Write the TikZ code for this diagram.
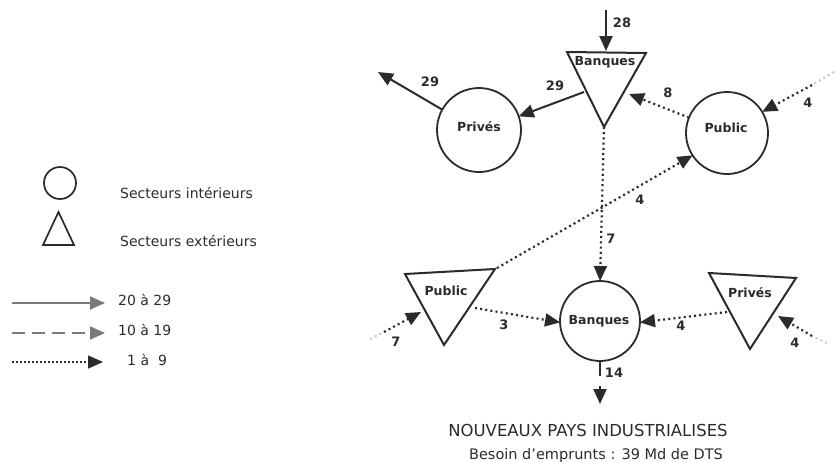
\documentclass[tikz,border=0pt]{standalone}
\usepackage{fontspec}
\setmainfont{DejaVu Sans}
\newfontfamily\lblfont{DejaVu Sans Bold}
\usetikzlibrary{arrows.meta}
\definecolor{ink}{HTML}{2B2B2B}
\definecolor{legendgray}{HTML}{7A7A7A}
\tikzset{
  sector/.style={circle, draw=ink, line width=1.8pt, inner sep=0pt, outer sep=0pt},
  extshape/.style={draw=ink, line width=2pt, line join=miter},
  lbl/.style={text=ink, font=\lblfont\fontsize{12.5}{14}\selectfont, inner sep=0pt},
  num/.style={text=ink, font=\lblfont\fontsize{13}{14}\selectfont, inner sep=0pt},
  legtext/.style={text=ink, font=\fontsize{14}{15}\selectfont, inner sep=0pt, anchor=west},
  tip/.style={-{Triangle[length=15pt,width=13pt]}},
  bigflow/.style={draw=ink, line width=2pt, tip},
  midflow/.style={draw=ink, line width=2pt, dash pattern=on 15pt off 10pt, tip},
  smallflow/.style={draw=ink, line width=2.2pt, dash pattern=on 2pt off 3.2pt, tip},
  fadeflow/.style={draw=ink!25, line width=2.2pt, dash pattern=on 2pt off 3.2pt},
}
\begin{document}
\begin{tikzpicture}[x=1pt, y=-1pt]
\useasboundingbox (0,0) rectangle (836,461);

% ---------- legend ----------
\node[circle, draw=ink, line width=1.7pt, minimum size=32pt, inner sep=0pt] (legcirc) at (60,183) {};
\node[legtext] (legcirctxt) at (120,193) {Secteurs intérieurs};
\draw[ink, line width=1.7pt] (43,245) -- (74,245) -- (58.5,212) -- cycle;
\coordinate (legtri) at (58,232);
\node[legtext] (legtritxt) at (120,241) {Secteurs extérieurs};

\coordinate (la1) at (12,303); \coordinate (lb1) at (105,303);
\coordinate (la2) at (12,333); \coordinate (lb2) at (105,333);
\coordinate (la3) at (12,362); \coordinate (lb3) at (103,362);
\draw[legendgray, line width=1.8pt, tip] (la1) -- (lb1);
\draw[legendgray, line width=1.8pt, dash pattern=on 13pt off 7pt, tip] (la2) -- (lb2);
\draw[ink, line width=1.5pt, dash pattern=on 1.6pt off 2.4pt, tip] (la3) -- (lb3);
\node[legtext] (leg1) at (118,300) {20 à 29};
\node[legtext] (leg2) at (118,330) {10 à 19};
\node[legtext] (leg3) at (127,360) {1 à\ \ 9};

% ---------- domestic sectors (circles) ----------
\node[sector, minimum size=84pt] (prives) at (479,130) {};
\node[lbl] at (479,127) {Privés};
\node[sector, minimum size=82pt] (publicc) at (727,133) {};
\node[lbl] at (726,128) {Public};
\node[sector, minimum size=80pt] (banquesc) at (600,321) {};
\node[lbl] at (599,321) {Banques};

% ---------- external sectors (triangles) ----------
\coordinate (ta) at (567,52); \coordinate (tb) at (646,53); \coordinate (tc) at (604,127);
\draw[extshape] (ta) -- (tb) -- (tc) -- cycle;
\node[lbl] (banquesx) at (605,62) {Banques};

\coordinate (pa) at (405,274); \coordinate (pb) at (495,269); \coordinate (pc) at (444,345);
\draw[extshape] (pa) -- (pb) -- (pc) -- cycle;
\node[lbl] (publicx) at (446,291) {Public};

\coordinate (ra) at (709,273); \coordinate (rb) at (796,278); \coordinate (rc) at (750,349);
\draw[extshape] (ra) -- (rb) -- (rc) -- cycle;
\node[lbl] (privesx) at (750,293) {Privés};

% ---------- connector end points ----------
\coordinate (in28) at (606,10);
\coordinate (tbtop) at (606,51);
\coordinate (tbleft) at (584,92);
\coordinate (tbright) at (629,94);
\coordinate (out29) at (378,72);
\coordinate (inpub0) at (834,72);
\coordinate (inpub1) at (812,85);
\coordinate (inpx0) at (370,339);
\coordinate (inpx1) at (384,332);
\coordinate (pxleft) at (421,312);
\coordinate (pxright) at (475,308);
\coordinate (pxtop) at (497,268);
\coordinate (rxleft) at (727,312);
\coordinate (rxright) at (778,316);
\coordinate (inrx0) at (827,343);
\coordinate (inrx1) at (812,336);
\coordinate (out14) at (600,404);

% ---------- flows ----------
\draw[bigflow] (in28) -- (tbtop);
\node[num] at (622,23) {28};
\draw[bigflow] (tbleft) -- (prives.19);
\node[num] at (555,86) {29};
\draw[bigflow] (prives.151) -- (out29);
\node[num] at (430,82) {29};

\draw[smallflow] (publicc.158) -- (tbright);
\node[num] at (668,93) {8};
\draw[fadeflow] (inpub0) -- (inpub1);
\draw[smallflow] (inpub1) -- (publicc.31);
\node[num] at (808,103) {4};
\draw[smallflow] (pxtop) -- (publicc.213);
\node[num] at (640,200) {4};
\draw[smallflow] (tc) -- (banquesc.90);
\node[num] at (611,239) {7};

\draw[fadeflow] (inpx0) -- (inpx1);
\draw[smallflow] (inpx1) -- (pxleft);
\node[num] at (396,342) {7};
\draw[smallflow] (pxright) -- (banquesc.182);
\node[num] at (504,325) {3};
\draw[smallflow] (rxleft) -- (banquesc.358);
\node[num] at (681,326) {4};
\draw[fadeflow] (inrx0) -- (inrx1);
\draw[smallflow] (inrx1) -- (rxright);
\node[num] at (795,343) {4};

\draw[midflow] (banquesc.270) -- (out14);
\node[num] at (614,373) {14};

% ---------- caption ----------
\node[text=ink, font=\fontsize{16.5}{18}\selectfont, inner sep=0pt] (title) at (588,430) {NOUVEAUX PAYS INDUSTRIALISES};
\node[text=ink, font=\fontsize{14.5}{16}\selectfont, inner sep=0pt] (subtitle) at (596,455) {Besoin d’emprunts : 39 Md de DTS};
\end{tikzpicture}
\end{document}
